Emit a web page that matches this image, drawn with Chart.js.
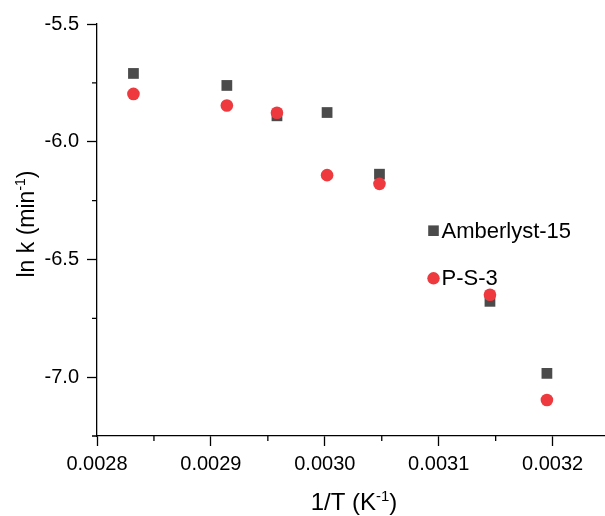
<!DOCTYPE html>
<html>
<head>
<meta charset="utf-8">
<script src="https://cdn.jsdelivr.net/npm/chart.js@4/dist/chart.umd.min.js"></script>
<style>
  html, body { margin: 0; padding: 0; background: #ffffff; overflow: hidden; }
  #wrap { width: 605px; height: 516px; position: relative; }
  canvas { display: block; }
</style>
</head>
<body>
<div id="wrap"><canvas id="c"></canvas></div>
<script>
// ---- data ----
const invT = [0.002832, 0.002914, 0.002958, 0.003002, 0.003048, 0.003145, 0.003195];
const amberlyst = [-5.710, -5.761, -5.890, -5.876, -6.138, -6.678, -6.984];
const ps3 = [-5.797, -5.846, -5.877, -6.142, -6.179, -6.650, -7.097];
const seriesNames = ['Amberlyst-15', 'P-S-3'];
const xMajorTicks = [0.0028, 0.0029, 0.0030, 0.0031, 0.0032];
const xMinorTicks = [0.00285, 0.00295, 0.00305, 0.00315];
const yMajorTicks = [-7.0, -6.5, -6.0, -5.5];
const yMinorTicks = [-7.25, -6.75, -6.25, -5.75];

const FONT = "'Liberation Sans', Arial, sans-serif";
const SQ_COLOR = '#4b4b4b';
const CI_COLOR = '#ee3a3e';

function pts(xs, ys) { return xs.map((x, i) => ({ x: x, y: ys[i] })); }

function drawRich(ctx, parts, x, y, size) {
  let cx = x;
  for (const p of parts) {
    const fs = p.sup ? Math.round(size * 0.62) : size;
    ctx.font = fs + 'px ' + FONT;
    const dy = p.sup ? -size * 0.38 : 0;
    ctx.fillText(p.t, cx, y + dy);
    cx += ctx.measureText(p.t).width;
  }
  return cx - x;
}
function richWidth(ctx, parts, size) {
  let w = 0;
  for (const p of parts) {
    const fs = p.sup ? Math.round(size * 0.62) : size;
    ctx.font = fs + 'px ' + FONT;
    w += ctx.measureText(p.t).width;
  }
  return w;
}

const extrasPlugin = {
  id: 'extras',
  afterDraw(chart) {
    const ctx = chart.ctx;
    const xs = chart.scales.x, ys = chart.scales.y;
    const ca = chart.chartArea;
    ctx.save();
    // minor ticks
    ctx.strokeStyle = '#000';
    ctx.lineWidth = 1.3;
    ctx.beginPath();
    for (const v of xMinorTicks) {
      const px = xs.getPixelForValue(v);
      ctx.moveTo(px, ca.bottom);
      ctx.lineTo(px, ca.bottom + 5);
    }
    for (const v of yMinorTicks) {
      const py = ys.getPixelForValue(v);
      ctx.moveTo(ca.left, py);
      ctx.lineTo(ca.left - 5, py);
    }
    ctx.stroke();

    // axis titles with superscripts
    ctx.fillStyle = '#000';
    ctx.textBaseline = 'alphabetic';
    ctx.textAlign = 'left';
    const xt = [{ t: '1/T (K' }, { t: '-1', sup: true }, { t: ')' }];
    const wx = richWidth(ctx, xt, 24);
    drawRich(ctx, xt, 354 - wx / 2, 510, 24);

    const yt = [{ t: 'ln k (min' }, { t: '-1', sup: true }, { t: ')' }];
    const wy = richWidth(ctx, yt, 23);
    ctx.save();
    ctx.translate(33.5, 224);
    ctx.rotate(-Math.PI / 2);
    drawRich(ctx, yt, -wy / 2, 0, 23);
    ctx.restore();

    // legend
    const lx = 433.5;
    const items = [
      { y: 230.7, style: 'rect', color: SQ_COLOR, r: 7.5, text: seriesNames[0] },
      { y: 278.3, style: 'circle', color: CI_COLOR, r: 6.2, text: seriesNames[1] }
    ];
    for (const it of items) {
      ctx.fillStyle = it.color;
      Chart.helpers.drawPoint(ctx, { pointStyle: it.style, radius: it.r, borderWidth: 0, rotation: 0 }, lx, it.y);
      ctx.fillStyle = '#000';
      ctx.font = '22px ' + FONT;
      ctx.textBaseline = 'middle';
      ctx.fillText(it.text, 441.5, it.y + 1);
    }
    ctx.restore();
  }
};

new Chart(document.getElementById('c'), {
  type: 'scatter',
  data: {
    datasets: [
      {
        label: seriesNames[0],
        data: pts(invT, amberlyst),
        pointStyle: 'rect',
        pointRadius: 7.6,
        pointHoverRadius: 7.6,
        backgroundColor: SQ_COLOR,
        borderWidth: 0,
        order: 1
      },
      {
        label: seriesNames[1],
        data: pts(invT, ps3),
        pointStyle: 'circle',
        pointRadius: 6.3,
        pointHoverRadius: 6.3,
        backgroundColor: CI_COLOR,
        borderWidth: 0,
        order: 0
      }
    ]
  },
  options: {
    responsive: true,
    maintainAspectRatio: false,
    animation: false,
    layout: { autoPadding: false, padding: { top: 24, right: 0, bottom: 0, left: 0 } },
    plugins: {
      legend: { display: false },
      tooltip: { enabled: false },
      title: { display: false }
    },
    scales: {
      x: {
        type: 'linear',
        min: 0.0028,
        max: 0.003246,
        afterBuildTicks: (s) => { s.ticks = xMajorTicks.map(v => ({ value: v })); },
        afterFit: (s) => { s.height = 80; s.paddingRight = 0; s.paddingLeft = 0; },
        ticks: {
          color: '#000',
          font: { family: FONT, size: 20 },
          padding: 6,
          maxRotation: 0,
          autoSkip: false,
          callback: (v) => Number(v).toFixed(4)
        },
        grid: {
          drawOnChartArea: false,
          drawTicks: true,
          tickLength: 10,
          tickColor: '#000',
          tickWidth: 1.3
        },
        border: { display: true, color: '#000', width: 1.3 },
        title: { display: false }
      },
      y: {
        type: 'linear',
        min: -7.25,
        max: -5.5,
        afterBuildTicks: (s) => { s.ticks = yMajorTicks.map(v => ({ value: v })); },
        afterFit: (s) => { s.width = 97; },
        ticks: {
          color: '#000',
          font: { family: FONT, size: 20 },
          padding: 8,
          autoSkip: false,
          callback: (v) => Number(v).toFixed(1)
        },
        grid: {
          drawOnChartArea: false,
          drawTicks: true,
          tickLength: 10,
          tickColor: '#000',
          tickWidth: 1.3
        },
        border: { display: true, color: '#000', width: 1.3 },
        title: { display: false }
      }
    }
  },
  plugins: [extrasPlugin]
});
</script>
</body>
</html>
